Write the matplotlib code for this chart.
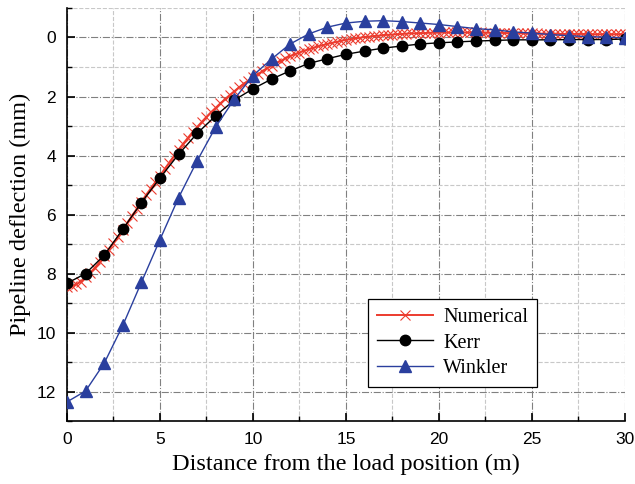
import numpy as np
import matplotlib.pyplot as plt
from matplotlib.ticker import MultipleLocator

# Kerr and Winkler solutions at every metre
pts_x = list(range(0, 31))
kerr = [8.33, 8.00, 7.38, 6.50, 5.60, 4.76, 3.96, 3.25, 2.65, 2.12, 1.74,
        1.41, 1.13, 0.88, 0.72, 0.57, 0.46, 0.36, 0.29, 0.22, 0.18,
        0.15, 0.12, 0.10, 0.08, 0.08, 0.08, 0.07, 0.07, 0.07, 0.05]
winkler = [12.35, 11.98, 11.04, 9.76, 8.30, 6.85, 5.43, 4.18, 3.03, 2.09, 1.29,
           0.73, 0.22, -0.12, -0.35, -0.49, -0.55, -0.57, -0.54, -0.49, -0.44,
           -0.37, -0.30, -0.26, -0.19, -0.15, -0.10, -0.06, -0.03, -0.01, 0.01]

# numerical result, read every 0.25 m
num_x = np.linspace(0, 30, 121)
numerical = [
    8.45, 8.43, 8.37, 8.27,
    8.13, 7.97, 7.80, 7.61,
    7.41, 7.20, 6.98, 6.75,
    6.51, 6.28, 6.04, 5.81,
    5.57, 5.34, 5.12, 4.90,
    4.68, 4.46, 4.24, 4.02,
    3.80, 3.60, 3.40, 3.21,
    3.03, 2.86, 2.69, 2.53,
    2.38, 2.23, 2.09, 1.95,
    1.82, 1.69, 1.57, 1.46,
    1.35, 1.25, 1.15, 1.05,
    0.95, 0.87, 0.79, 0.71,
    0.63, 0.57, 0.51, 0.45,
    0.40, 0.35, 0.30, 0.26,
    0.22, 0.18, 0.15, 0.11,
    0.08, 0.06, 0.03, 0.01,
    -0.02, -0.03, -0.05, -0.06,
    -0.08, -0.09, -0.10, -0.11,
    -0.12, -0.13, -0.14, -0.14,
    -0.15, -0.15, -0.16, -0.16,
    -0.16, -0.17, -0.17, -0.17,
    -0.17, -0.17, -0.17, -0.17,
    -0.17, -0.17, -0.16, -0.16,
    -0.16, -0.16, -0.15, -0.15,
    -0.15, -0.15, -0.14, -0.14,
    -0.14, -0.14, -0.13, -0.13,
    -0.13, -0.13, -0.12, -0.12,
    -0.12, -0.12, -0.12, -0.12,
    -0.12, -0.11, -0.11, -0.11,
    -0.11, -0.11, -0.11, -0.11,
    -0.11,
]

fig = plt.figure(figsize=(6.35, 4.84), dpi=100)
ax = fig.add_axes([0.1055, 0.130, 0.8785, 0.8535])

ax.plot(num_x, numerical, color="#ec3b2e", lw=1.4, marker="x", ms=6.5, mew=0.8,
        label="Numerical", zorder=3)
ax.plot(pts_x, kerr, color="black", lw=1.0, marker="o", ms=7.5,
        label="Kerr", zorder=4)
ax.plot(pts_x, winkler, color="#2a3f9e", lw=1.0, marker="^", ms=8.5,
        label="Winkler", zorder=5)

ax.set_xlim(0, 30)
ax.set_ylim(13, -1)
ax.xaxis.set_major_locator(MultipleLocator(5))
ax.xaxis.set_minor_locator(MultipleLocator(2.5))
ax.yaxis.set_major_locator(MultipleLocator(2))
ax.yaxis.set_minor_locator(MultipleLocator(1))

ax.grid(which="major", color="#808080", ls="-.", lw=0.8)
ax.grid(which="minor", color="#c8c8c8", ls="--", lw=0.8)
ax.set_axisbelow(True)

for s in ["top", "right"]:
    ax.spines[s].set_visible(False)
ax.spines["left"].set_linewidth(1.2)
ax.spines["bottom"].set_linewidth(1.2)

ax.tick_params(which="major", direction="in", length=6, width=1.2,
               labelsize=12.5, pad=8)
ax.tick_params(which="minor", direction="in", length=3.5, width=1.0)
for lab in ax.get_xticklabels() + ax.get_yticklabels():
    lab.set_family("Liberation Sans")

ax.set_xlabel("Distance from the load position (m)", family="Liberation Serif",
              fontsize=17.5, labelpad=5)
ax.set_ylabel("Pipeline deflection (mm)", family="Liberation Serif",
              fontsize=17.5, labelpad=4)

leg = ax.legend(loc="upper left", bbox_to_anchor=(0.539, 0.295),
                borderaxespad=0,
                prop={"family": "Liberation Serif", "size": 14.5},
                fancybox=False, edgecolor="black", framealpha=1,
                borderpad=0.45, handlelength=2.8, handletextpad=0.5,
                labelspacing=0.3)
leg.get_frame().set_linewidth(0.9)

fig.savefig("out.png", dpi=100)
